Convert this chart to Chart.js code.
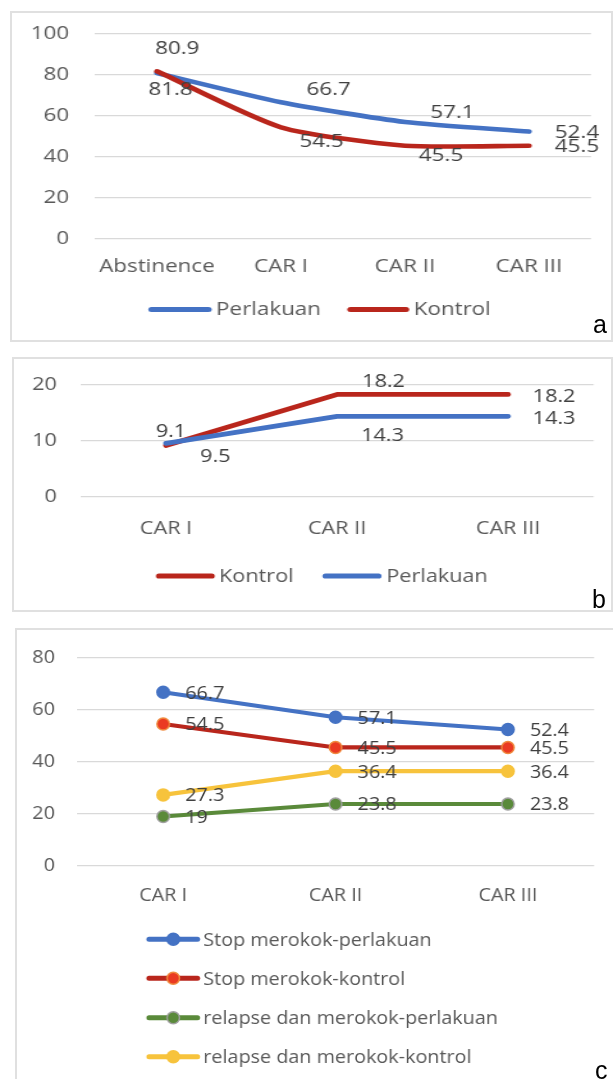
<!DOCTYPE html>
<html><head><meta charset="utf-8">
<script src="https://cdn.jsdelivr.net/npm/chart.js@4.4.1/dist/chart.umd.min.js"></script>
<style>
html,body{margin:0;padding:0;background:#fff;}
body{width:613px;height:1079px;position:relative;overflow:hidden;}
.frame{position:absolute;border:2px solid #E0E0E0;box-sizing:border-box;}
.wrap{position:absolute;left:0;transform-origin:0 0;}
.wrap canvas{display:block;}
.tag{position:absolute;font-family:'Liberation Sans',Arial,sans-serif;font-size:25px;color:#000;line-height:25px;}
</style></head><body>
<div class="frame" style="left:10px;top:11px;width:603px;height:331px;"></div>
<div class="frame" style="left:12px;top:357px;width:601px;height:255px;"></div>
<div class="frame" style="left:15px;top:628px;width:620px;height:470px;"></div>
<div class="wrap" id="wa" style="top:0px;"><canvas id="ca" width="479" height="345"></canvas></div>
<div class="wrap" id="wb" style="top:345px;"><canvas id="cb" width="524" height="270"></canvas></div>
<div class="wrap" id="wc" style="top:625px;"><canvas id="cc" width="589" height="454"></canvas></div>
<div class="tag" style="left:593px;top:312px;">a</div>
<div class="tag" style="left:592px;top:587px;">b</div>
<div class="tag" style="left:595px;top:1058px;">c</div>
<script>
// ---------- DATA ----------
const catsA = ['Abstinence', 'CAR I', 'CAR II', 'CAR III'];
const perlakuanA = [80.9, 66.7, 57.1, 52.4];
const kontrolA = [81.8, 54.5, 45.5, 45.5];
const yTicksA = [0, 20, 40, 60, 80, 100];

const catsB = ['CAR I', 'CAR II', 'CAR III'];
const kontrolB = [9.1, 18.2, 18.2];
const perlakuanB = [9.5, 14.3, 14.3];
const yTicksB = [0, 10, 20];

const catsC = ['CAR I', 'CAR II', 'CAR III'];
const stopPerlakuanC = [66.7, 57.1, 52.4];
const stopKontrolC = [54.5, 45.5, 45.5];
const relapsePerlakuanC = [19, 23.8, 23.8];
const relapseKontrolC = [27.3, 36.4, 36.4];
const yTicksC = [0, 20, 40, 60, 80];

const namesA = ['Perlakuan', 'Kontrol'];
const namesB = ['Kontrol', 'Perlakuan'];
const namesC = ['Stop merokok-perlakuan', 'Stop merokok-kontrol', 'relapse dan merokok-perlakuan', 'relapse dan merokok-kontrol'];

// ---------- STYLE ----------
const FONT = "'Open Sans', 'Noto Sans', sans-serif";
const BLUE = '#4472C4', RED = '#B9261C', GREEN = '#5A8A3A', YELLOW = '#F7C33C';
const TICK_COLOR = '#595959', LABEL_COLOR = '#404040', GRID = '#D9D9D9';

function makePanel(cfg) {
  const sx = cfg.sx;
  document.getElementById(cfg.wrap).style.transform = 'scaleX(' + sx + ')';
  const font = { family: FONT, size: cfg.fontSize };

  const labelPlugin = {
    id: 'vl_' + cfg.canvas,
    afterDatasetsDraw(chart) {
      const ctx = chart.ctx;
      ctx.save();
      ctx.font = cfg.fontSize + 'px ' + FONT;
      ctx.fillStyle = LABEL_COLOR;
      ctx.textBaseline = 'middle';
      ctx.textAlign = cfg.labelAlign;
      chart.data.datasets.forEach((ds, di) => {
        const meta = chart.getDatasetMeta(di);
        meta.data.forEach((pt, i) => {
          const off = cfg.labelOffsets[di][i];
          ctx.fillText(String(ds.data[i]), pt.x + off[0] / sx, pt.y + off[1]);
        });
      });
      ctx.restore();
    }
  };

  const legendPlugin = {
    id: 'lg_' + cfg.canvas,
    afterDraw(chart) {
      const ctx = chart.ctx;
      ctx.save();
      ctx.font = cfg.fontSize + 'px ' + FONT;
      ctx.textBaseline = 'middle';
      ctx.textAlign = 'left';
      cfg.legend.forEach(item => {
        const ds = chart.data.datasets[item.ds];
        const y = item.y - cfg.top;
        ctx.strokeStyle = ds.borderColor;
        ctx.lineWidth = cfg.legendLine;
        ctx.lineCap = 'round';
        ctx.beginPath();
        ctx.moveTo(item.x0 / sx, y);
        ctx.lineTo(item.x1 / sx, y);
        ctx.stroke();
        if (cfg.markers) {
          const cx = (item.x0 + item.x1) / 2 / sx;
          ctx.beginPath();
          ctx.arc(cx, y, ds.pointRadius, 0, Math.PI * 2);
          ctx.fillStyle = ds.pointBackgroundColor;
          ctx.fill();
          ctx.lineWidth = ds.pointBorderWidth;
          ctx.strokeStyle = ds.pointBorderColor;
          ctx.stroke();
        }
        ctx.fillStyle = TICK_COLOR;
        ctx.fillText(ds.label, item.tx / sx, y + 1);
      });
      ctx.restore();
    }
  };

  return new Chart(document.getElementById(cfg.canvas), {
    type: 'line',
    data: { labels: cfg.labels, datasets: cfg.datasets },
    plugins: [labelPlugin, legendPlugin],
    options: {
      responsive: false,
      animation: false,
      devicePixelRatio: 1,
      layout: { padding: { left: cfg.padL, right: cfg.padR, top: cfg.padT, bottom: cfg.padB } },
      plugins: { legend: { display: false }, tooltip: { enabled: false } },
      elements: { line: { borderWidth: cfg.lineWidth, borderCapStyle: 'round', borderJoinStyle: 'round' } },
      scales: {
        x: {
          type: 'category', offset: true,
          grid: { display: false, drawTicks: false },
          border: { display: false },
          ticks: { font: font, color: TICK_COLOR, padding: cfg.xPad, maxRotation: 0, autoSkip: false },
          afterFit: s => { s.height = 50; }
        },
        y: {
          min: 0, max: cfg.yTicks[cfg.yTicks.length - 1],
          grid: { color: GRID, lineWidth: 1.3, drawTicks: false },
          border: { display: false },
          ticks: { font: font, color: TICK_COLOR, padding: cfg.yPad },
          afterFit: s => { s.width = 50; },
          afterBuildTicks: s => { s.ticks = cfg.yTicks.map(v => ({ value: v })); }
        }
      }
    }
  });
}

// Panel a
makePanel({
  canvas: 'ca', wrap: 'wa', top: 0, sx: 613 / 479, fontSize: 17.5,
  padL: 24.2, padR: 17.2, padT: 34, padB: 56, xPad: 17.5, yPad: 20.3,
  lineWidth: 4.6, legendLine: 5, markers: false, labelAlign: 'center',
  labels: catsA, yTicks: yTicksA,
  datasets: [
    { label: namesA[0], data: perlakuanA, borderColor: BLUE, backgroundColor: BLUE, pointRadius: 0, tension: 0.22, order: 1 },
    { label: namesA[1], data: kontrolA, borderColor: RED, backgroundColor: RED, pointRadius: 0, tension: 0.22, order: 0 }
  ],
  labelOffsets: [
    [[20.3, -24.4], [47.6, -12], [47.5, -9], [48, 1.4]],
    [[13.6, 18.4], [40.6, 14.4], [36, 10.6], [48, 1.3]]
  ],
  legend: [
    { ds: 0, x0: 151.5, x1: 208.5, tx: 216, y: 309.5 },
    { ds: 1, x0: 350.5, x1: 406, tx: 413.6, y: 309.5 }
  ]
});

// Panel b
makePanel({
  canvas: 'cb', wrap: 'wb', top: 345, sx: 613 / 524, fontSize: 18.5,
  padL: 18.8, padR: 16.6, padT: 39.3, padB: 68.3, xPad: 21, yPad: 20.1,
  lineWidth: 4.8, legendLine: 5.2, markers: false, labelAlign: 'center',
  labels: catsB, yTicks: yTicksB,
  datasets: [
    { label: namesB[0], data: kontrolB, borderColor: RED, backgroundColor: RED, pointRadius: 0, tension: 0, order: 1 },
    { label: namesB[1], data: perlakuanB, borderColor: BLUE, backgroundColor: BLUE, pointRadius: 0, tension: 0, order: 0 }
  ],
  labelOffsets: [
    [[5, -13.6], [46.5, -12.4], [46, 2]],
    [[49.4, 13.7], [45.5, 19.7], [46, 2.4]]
  ],
  legend: [
    { ds: 0, x0: 159, x1: 211.7, tx: 219, y: 576 },
    { ds: 1, x0: 325.5, x1: 378.5, tx: 386.2, y: 576 }
  ]
});

// Panel c
const offC = [[22, 1], [22, 1], [22, 1]];
makePanel({
  canvas: 'cc', wrap: 'wc', top: 625, sx: 613 / 589, fontSize: 19,
  padL: 24, padR: 18.2, padT: 29, padB: 163, xPad: 18, yPad: 21.2,
  lineWidth: 4.2, legendLine: 5, markers: true, labelAlign: 'left',
  labels: catsC, yTicks: yTicksC,
  datasets: [
    { label: namesC[0], data: stopPerlakuanC, borderColor: BLUE, backgroundColor: BLUE, pointBackgroundColor: BLUE, pointBorderColor: BLUE, pointRadius: 6, pointBorderWidth: 1.5, tension: 0 },
    { label: namesC[1], data: stopKontrolC, borderColor: RED, backgroundColor: RED, pointBackgroundColor: '#EA3A22', pointBorderColor: '#F08A3E', pointRadius: 6, pointBorderWidth: 1.5, tension: 0 },
    { label: namesC[2], data: relapsePerlakuanC, borderColor: GREEN, backgroundColor: GREEN, pointBackgroundColor: GREEN, pointBorderColor: '#A0A0A0', pointRadius: 6, pointBorderWidth: 1.5, tension: 0 },
    { label: namesC[3], data: relapseKontrolC, borderColor: YELLOW, backgroundColor: YELLOW, pointBackgroundColor: YELLOW, pointBorderColor: YELLOW, pointRadius: 6, pointBorderWidth: 1.5, tension: 0 }
  ],
  labelOffsets: [offC, offC, offC, offC],
  legend: [
    { ds: 0, x0: 149, x1: 197.5, tx: 203.3, y: 939.3 },
    { ds: 1, x0: 149, x1: 197.5, tx: 203.3, y: 978.3 },
    { ds: 2, x0: 149, x1: 197.5, tx: 203.3, y: 1017.7 },
    { ds: 3, x0: 149, x1: 197.5, tx: 203.3, y: 1056.7 }
  ]
});
</script>
</body></html>
